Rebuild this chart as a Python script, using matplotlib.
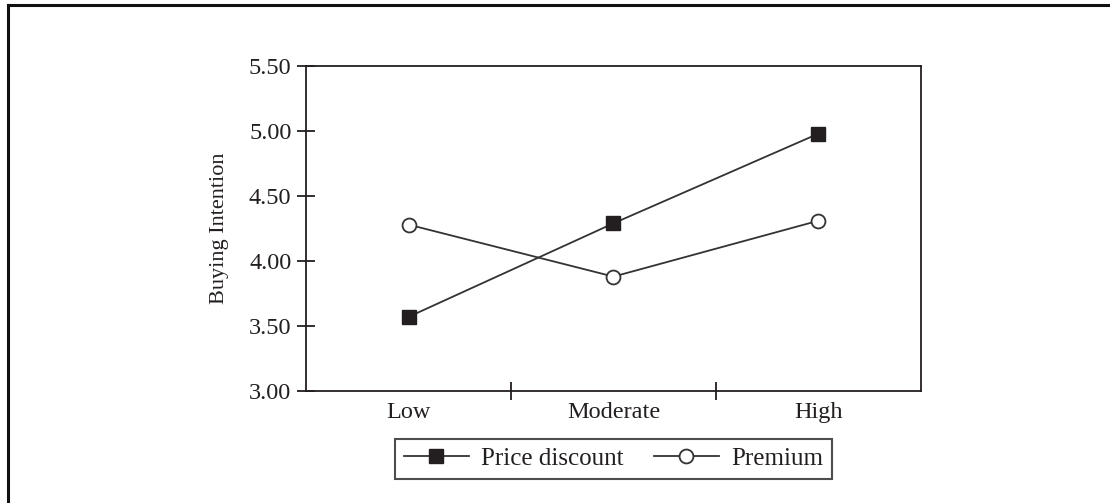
import numpy as np
import matplotlib
matplotlib.use("Agg")
import matplotlib.pyplot as plt
from matplotlib.lines import Line2D

# Data
levels = ["Low", "Moderate", "High"]
price_discount = [3.57, 4.29, 4.98]
premium = [4.28, 3.88, 4.31]
y_ticks = [3.00, 3.50, 4.00, 4.50, 5.00, 5.50]

ink = "#231f20"
plt.rcParams["font.family"] = ["Liberation Serif", "DejaVu Serif"]

fig = plt.figure(figsize=(11.1, 5.03), dpi=100)
ax = fig.add_axes([0.2757, 0.2227, 0.554, 0.646])

x = np.arange(len(levels)) + 0.5
ax.plot(x, price_discount, color="#333333", lw=1.3, marker="s", ms=10.5,
        mfc=ink, mec=ink, label="Price discount")
ax.plot(x, premium, color="#333333", lw=1.3, marker="o", ms=10,
        mfc="white", mec="#333333", mew=1.3, label="Premium")

ax.set_xlim(0, len(levels))
ax.set_ylim(3.0, 5.5)

# y axis
ax.set_yticks(y_ticks)
ax.set_yticklabels([f"{v:.2f}" for v in y_ticks])
ax.tick_params(axis="y", direction="inout", length=13, width=1.3, color=ink,
               labelsize=17.5, labelcolor=ink, pad=4)
ax.set_ylabel("Buying Intention", fontsize=16, color=ink, labelpad=14)

# x axis: tick marks at category boundaries, labels at centres
ax.set_xticks([1, 2])
ax.set_xticklabels([])
ax.set_xticks(x, minor=True)
ax.set_xticklabels(levels, minor=True)
ax.tick_params(axis="x", which="major", direction="inout", length=13,
               width=1.3, color=ink)
ax.tick_params(axis="x", which="minor", length=0, labelsize=17.5,
               labelcolor=ink, pad=8)

for sp in ax.spines.values():
    sp.set_linewidth(1.3)
    sp.set_color(ink)

leg = fig.legend(loc="center", bbox_to_anchor=(0.5527, 0.0875), ncol=2,
                 fontsize=18, frameon=True, fancybox=False, edgecolor=ink,
                 handlelength=2.6, handletextpad=0.5, columnspacing=1.2,
                 borderpad=0.35, labelcolor=ink)
leg.get_frame().set_linewidth(1.5)

# outer frame (only top and left edges visible in the reference)
fig.add_artist(Line2D([8 / 1110, 1.0], [1 - 5 / 503, 1 - 5 / 503],
                      transform=fig.transFigure, color="#111111", lw=2.2))
fig.add_artist(Line2D([8 / 1110, 8 / 1110], [0.0, 1 - 5 / 503],
                      transform=fig.transFigure, color="#111111", lw=2.2))

fig.savefig("out.png", dpi=100, facecolor="white")
